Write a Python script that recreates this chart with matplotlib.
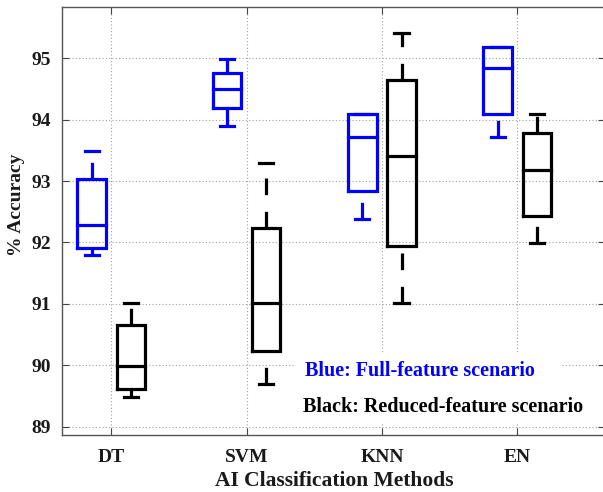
import matplotlib
matplotlib.use("Agg")
import matplotlib.pyplot as plt
from matplotlib.patches import Rectangle

methods = ["DT", "SVM", "KNN", "EN"]

# five-number summaries per method: lower whisker, Q1, median, Q3, upper whisker
full_lo = [91.80, 93.89, 92.39, 93.72]
full_q1 = [91.91, 94.19, 92.84, 94.09]
full_med = [92.28, 94.50, 93.71, 94.84]
full_q3 = [93.03, 94.76, 94.09, 95.19]
full_hi = [93.49, 94.99, 94.09, 95.19]

red_lo = [89.49, 89.70, 91.01, 91.99]
red_q1 = [89.61, 90.24, 91.94, 92.43]
red_med = [89.99, 91.01, 93.41, 93.18]
red_q3 = [90.66, 92.24, 94.65, 93.79]
red_hi = [91.01, 93.29, 95.41, 94.10]

plt.rcParams["font.family"] = ["Liberation Serif", "DejaVu Serif"]
plt.rcParams["font.weight"] = "bold"
plt.rcParams["axes.labelweight"] = "bold"


def summaries(lo, q1, med, q3, hi):
    return [dict(whislo=a, q1=b, med=c, q3=d, whishi=e, fliers=[])
            for a, b, c, d, e in zip(lo, q1, med, q3, hi)]


fig = plt.figure(figsize=(6.03, 4.92), dpi=100)
ax = fig.add_axes([0.1036, 0.1159, 0.9, 0.8693])

x = list(range(1, len(methods) + 1))
lw = 2.3
dash = (12.0 / lw, 12.0 / lw)


def draw(stats, pos, color):
    art = ax.bxp(stats, positions=pos, widths=0.21, capwidths=0.105,
                 showfliers=False, manage_ticks=False,
                 boxprops=dict(color=color, linewidth=lw),
                 medianprops=dict(color=color, linewidth=lw),
                 whiskerprops=dict(color=color, linewidth=lw,
                                   linestyle=(0, dash)),
                 capprops=dict(color=color, linewidth=lw))
    # whiskers run from the lower value upward, like the dashes in MATLAB
    for w in art["whiskers"][0::2]:
        w.set_ydata(w.get_ydata()[::-1])
    for line in art["boxes"] + art["medians"] + art["caps"] + art["whiskers"]:
        line.set_solid_capstyle("projecting")
        line.set_solid_joinstyle("miter")
        line.set_zorder(4)
    return art


draw(summaries(full_lo, full_q1, full_med, full_q3, full_hi),
     [p - 0.145 for p in x], "#0000ff")
draw(summaries(red_lo, red_q1, red_med, red_q3, red_hi),
     [p + 0.145 for p in x], "black")

ax.set_xlim(0.639, 4.65)
ax.set_ylim(88.865, 95.83)
ax.set_xticks(x)
ax.set_xticklabels(methods)
ax.set_yticks(range(89, 96))
ax.tick_params(direction="in", length=5, width=0.8, colors="#444444",
               labelcolor="#1a1a1a", labelsize=14, top=True, right=True)
ax.tick_params(axis="x", pad=10)
ax.tick_params(axis="y", pad=8)
ax.grid(True, linestyle=(0, (1, 2)), color="#a0a0a0", linewidth=0.8)
ax.set_axisbelow(True)
for s in ax.spines.values():
    s.set_color("#555555")
    s.set_linewidth(1.0)

ax.set_xlabel("AI Classification Methods", fontsize=15.5, color="#1a1a1a",
              labelpad=4)
ax.set_ylabel("% Accuracy", fontsize=14, color="#1a1a1a")
ax.yaxis.label.set_va("center")
ax.yaxis.set_label_coords(-0.084, 0.537)

# white panel behind the colour key
ax.add_patch(Rectangle((0.431, 0.028), 0.488, 0.164, transform=ax.transAxes,
                       facecolor="white", edgecolor="none", zorder=2))
ax.text(0.4475, 0.138, "Blue: Full-feature scenario", transform=ax.transAxes,
        color="#0000ff", fontsize=14.5, va="baseline", zorder=5)
ax.text(0.4438, 0.054, "Black: Reduced-feature scenario",
        transform=ax.transAxes, color="black", fontsize=14.5, va="baseline",
        zorder=5)

fig.savefig("out.png", dpi=100)
